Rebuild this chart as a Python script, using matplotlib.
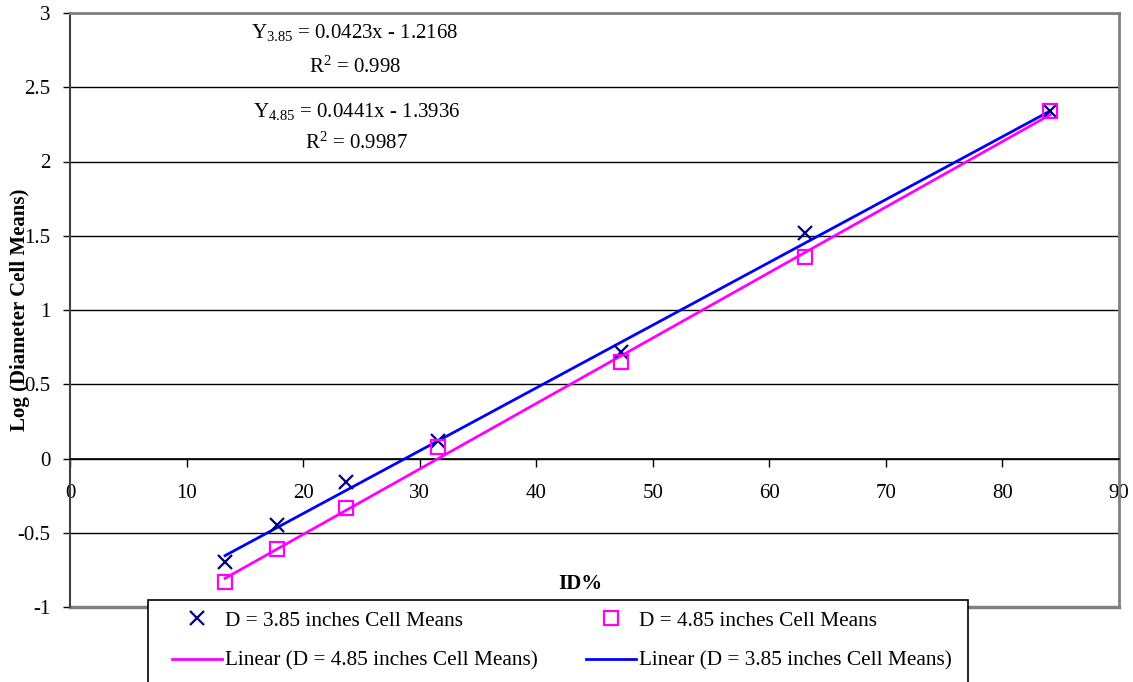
import numpy as np
import matplotlib.pyplot as plt
from matplotlib.patches import Rectangle

plt.rcParams['font.family'] = ['Liberation Serif', 'DejaVu Serif']
plt.rcParams['mathtext.fontset'] = 'custom'
plt.rcParams['mathtext.rm'] = 'Liberation Serif'
plt.rcParams['mathtext.it'] = 'Liberation Serif:italic'

# ID% of each cell (same cells for both diameters)
id_pct = [13.3, 17.8, 23.7, 31.6, 47.3, 63.1, 84.1]
# log of diameter cell means
log_d385 = [-0.70, -0.45, -0.16, 0.12, 0.72, 1.52, 2.34]
log_d485 = [-0.83, -0.61, -0.33, 0.08, 0.65, 1.36, 2.34]

# trendline slope, intercept, R^2
fit_385 = (0.0423, -1.2168, 0.998)
fit_485 = (0.0441, -1.3936, 0.9987)

x_ticks = [0, 10, 20, 30, 40, 50, 60, 70, 80, 90]
y_ticks = [-1, -0.5, 0, 0.5, 1, 1.5, 2, 2.5, 3]
y_tick_labels = ['-1', '-0.5', '0', '0.5', '1', '1.5', '2', '2.5', '3']

W, H = 1133, 682
fig = plt.figure(figsize=(W / 100, H / 100), dpi=100)
ax = fig.add_axes([70 / W, 1 - 607 / H, 1049 / W, 594 / H])
ax.set_xlim(0, 90)
ax.set_ylim(-1, 3)

# linear trendlines over the data range
x_fit = np.array([min(id_pct), max(id_pct)])
l485, = ax.plot(x_fit, fit_485[0] * x_fit + fit_485[1], color='#FF00FF', lw=2, zorder=3)
l385, = ax.plot(x_fit, fit_385[0] * x_fit + fit_385[1], color='#0000FF', lw=2, zorder=3)

m385, = ax.plot(id_pct, log_d385, ls='none', marker='x', ms=10, mew=1.6,
                color='#000080', zorder=4)
m485, = ax.plot(id_pct, log_d485, ls='none', marker='s', ms=9.5, mew=1.6,
                mfc='none', mec='#FF00FF', zorder=4)

# axes styling (x axis crosses at y=0)
ax.set_axisbelow(True)
ax.yaxis.grid(True, color='black', lw=1)
ax.spines['bottom'].set_position(('data', 0))
ax.spines['bottom'].set_color('black')
ax.spines['bottom'].set_linewidth(1.2)
ax.spines['left'].set_color('#404040')
ax.spines['left'].set_linewidth(1.5)
for s in ['top', 'right']:
    ax.spines[s].set_color('#808080')
    ax.spines[s].set_linewidth(2)
ax.axhline(-1, color='#808080', lw=2.5, zorder=1, clip_on=False)

ax.set_xticks(x_ticks)
ax.set_yticks(y_ticks)
ax.set_yticklabels(y_tick_labels)
ax.tick_params(axis='y', direction='out', length=5, width=1, labelsize=15, pad=9)
ax.tick_params(axis='x', direction='out', length=6, width=1, labelsize=15, pad=12)

ax.set_xlabel('ID%', fontweight='bold', fontsize=15)
ax.xaxis.set_label_coords(0.486, 0.056)
ax.set_ylabel('Log (Diameter Cell Means)', fontweight='bold', fontsize=15)
ax.yaxis.set_label_coords(-0.038, 0.5)

# trendline equations
def eq_text(tag, fit):
    a, b, r2 = fit
    sign = '-' if b < 0 else '+'
    return ('Y$_{\\mathrm{' + tag + '}}$ = ' + f'{a:.4f}x {sign} {abs(b):.4f}',
            'R$^{\\mathrm{2}}$ = ' + str(r2))

eq1, r1 = eq_text('3.85', fit_385)
eq2, r2 = eq_text('4.85', fit_485)
ax.text(24.45, 2.866, eq1, ha='center', va='center', fontsize=15)
ax.text(24.45, 2.637, r1, ha='center', va='center', fontsize=15)
ax.text(24.6, 2.334, eq2, ha='center', va='center', fontsize=15)
ax.text(24.6, 2.126, r2, ha='center', va='center', fontsize=15)

# legend box overlapping the bottom of the plot area
fig.patches.append(Rectangle((148 / W, -0.05), 820 / W, 0.05 + 82 / H,
                             transform=fig.transFigure, facecolor='white',
                             edgecolor='black', lw=1.2, zorder=4))
handles = [m385, l485, m485, l385]
labels = ['D = 3.85 inches Cell Means',
          'Linear (D = 4.85 inches Cell Means)',
          'D = 4.85 inches Cell Means',
          'Linear (D = 3.85 inches Cell Means)']
leg = fig.legend(handles, labels, loc='upper left',
                 bbox_to_anchor=(172 / W, 1 - 611 / H),
                 ncol=2, fontsize=15.3, frameon=False, borderpad=0,
                 labelspacing=0.95, handlelength=2.35, handletextpad=0.15,
                 columnspacing=2.25, borderaxespad=0)
leg.set_zorder(6)

fig.savefig('out.png', dpi=100)
